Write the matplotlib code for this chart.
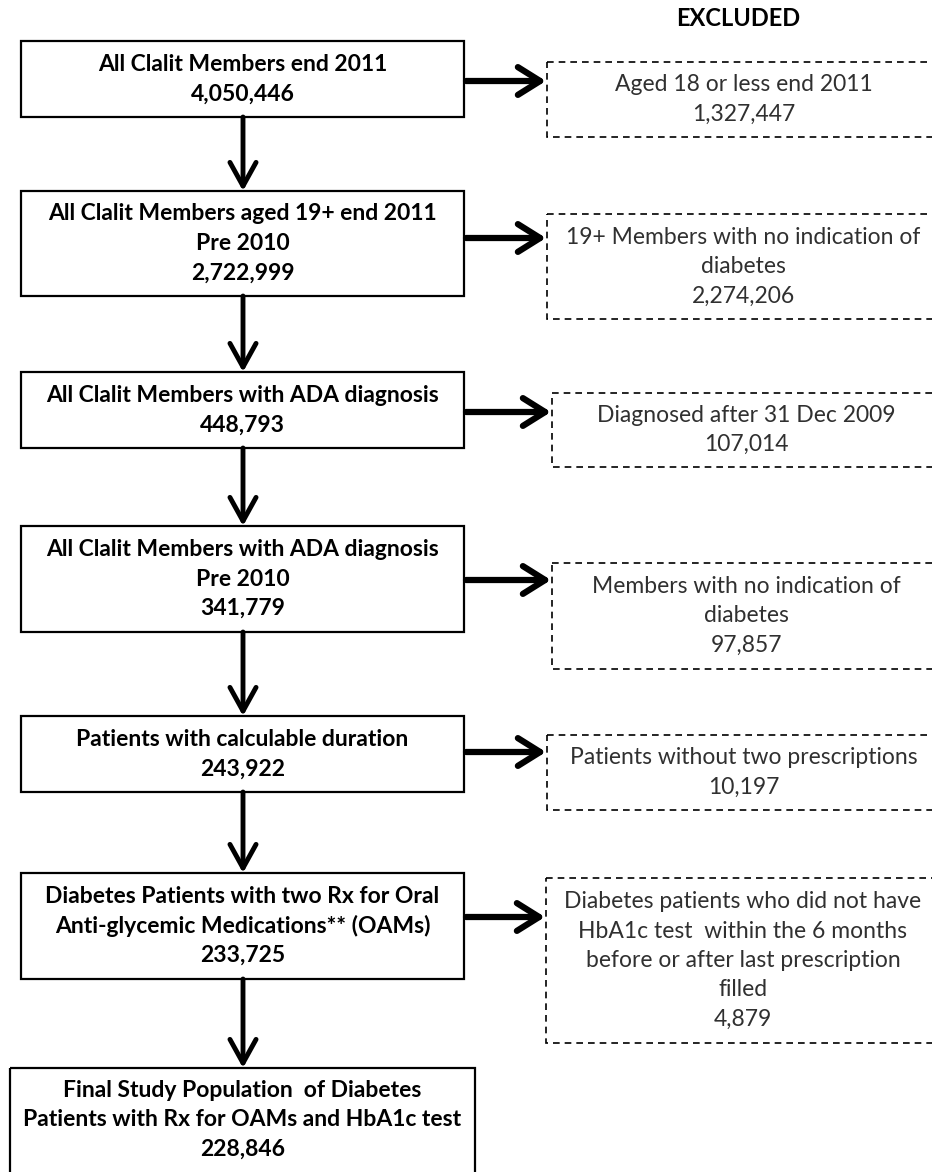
import matplotlib.pyplot as plt
from matplotlib.patches import Rectangle

plt.rcParams['font.family'] = ['Lato', 'DejaVu Sans']

# flow data
main_labels = [
    'All Clalit Members end 2011',
    'All Clalit Members aged 19+ end 2011\nPre 2010',
    'All Clalit Members with ADA diagnosis',
    'All Clalit Members with ADA diagnosis\nPre 2010',
    'Patients with calculable duration',
    'Diabetes Patients with two Rx for Oral\nAnti-glycemic Medications** (OAMs)',
    'Final Study Population  of Diabetes\nPatients with Rx for OAMs and HbA1c test',
]
main_counts = ['4,050,446', '2,722,999', '448,793', '341,779', '243,922', '233,725', '228,846']

excl_labels = [
    'Aged 18 or less end 2011',
    '19+ Members with no indication of\ndiabetes',
    'Diagnosed after 31 Dec 2009',
    'Members with no indication of\ndiabetes',
    'Patients without two prescriptions',
    'Diabetes patients who did not have\nHbA1c test  within the 6 months\nbefore or after last prescription\nfilled',
]
excl_counts = ['1,327,447', '2,274,206', '107,014', '97,857', '10,197', '4,879']

# layout in pixels (x0, x1, y0, y1)
main_boxes = [(21, 464, 41, 117), (21, 464, 191, 296), (21, 464, 372, 448),
              (21, 464, 526, 632), (21, 464, 716, 792), (21, 464, 873, 979),
              (10, 475, 1068, 1176)]
excl_boxes = [(547, 940, 62, 137), (547, 940, 214, 319), (552, 940, 393, 467),
              (552, 940, 563, 669), (547, 940, 735, 810), (546, 940, 878, 1043)]
arrow_y = [81, 238, 412, 580, 752, 917]

W, H = 932, 1172
fig = plt.figure(figsize=(W / 100, H / 100), dpi=100)
ax = fig.add_axes([0, 0, 1, 1])
ax.set_xlim(0, W)
ax.set_ylim(H, 0)
ax.axis('off')

LINE = 29.5


def block(cx, cy, lines, **kw):
    n = len(lines)
    for i, s in enumerate(lines):
        y = cy + (i - (n - 1) / 2) * LINE
        ax.text(cx, y, s, ha='center', va='center', **kw)


for (x0, x1, y0, y1), lab, cnt in zip(main_boxes, main_labels, main_counts):
    ax.add_patch(Rectangle((x0, y0), x1 - x0, y1 - y0, fill=False,
                           ec='black', lw=1.6, clip_on=True))
    cy = (y0 + min(y1, 1172)) / 2
    block((x0 + x1) / 2, cy, lab.split('\n') + [cnt],
          fontsize=16.5, fontweight='bold', color='black')

for (x0, x1, y0, y1), lab, cnt in zip(excl_boxes, excl_labels, excl_counts):
    ax.add_patch(Rectangle((x0, y0), x1 - x0, y1 - y0, fill=False,
                           ec='black', lw=1.2, ls=(0, (4, 3)), clip_on=True))
    block((x0 + x1) / 2, (y0 + y1) / 2, lab.split('\n') + [cnt],
          fontsize=16.5, color='#303030')

ax.text(738, 19, 'EXCLUDED', ha='center', va='center', fontsize=17,
        fontweight='bold', color='black')

# down arrows between main boxes
for a, b in zip(main_boxes[:-1], main_boxes[1:]):
    ax.annotate('', xy=(243, b[2]), xytext=(243, a[3]),
                arrowprops=dict(arrowstyle='->,head_length=0.85,head_width=0.47',
                                lw=3.5, color='black', shrinkA=0, shrinkB=0,
                                mutation_scale=20))

# right arrows to excluded boxes
for mb, eb, y in zip(main_boxes, excl_boxes, arrow_y):
    ax.annotate('', xy=(eb[0] - 1, y), xytext=(mb[1] + 2, y),
                arrowprops=dict(arrowstyle='->,head_length=0.8,head_width=0.5',
                                lw=4.5, color='black', shrinkA=0, shrinkB=0,
                                mutation_scale=20))

fig.savefig('out.png', dpi=100, facecolor='white')
